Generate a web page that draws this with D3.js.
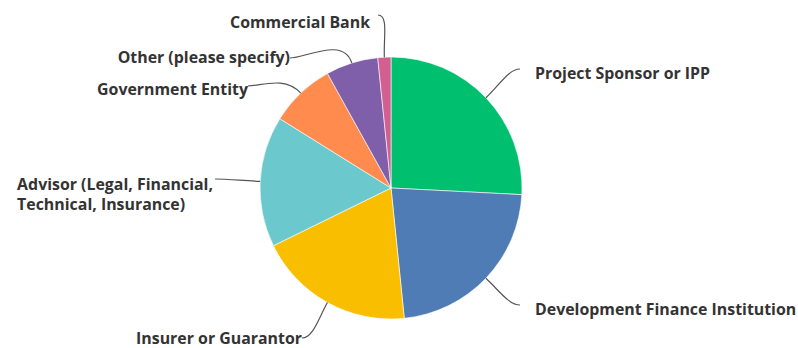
<!DOCTYPE html>
<html>
<head>
<meta charset="utf-8">
<script src="https://cdn.jsdelivr.net/npm/d3@7"></script>
<style>
  html, body { margin: 0; padding: 0; background: #fff; }
  svg { display: block; }
  .label { font-family: "Open Sans", Lato, sans-serif; font-weight: 700; font-size: 15.9px; fill: #333; }
</style>
</head>
<body>
<svg id="chart" width="798" height="348"></svg>
<script>
// Survey responses by respondent type
const categories = [
  "Project Sponsor or IPP",
  "Development Finance Institution",
  "Insurer or Guarantor",
  "Advisor (Legal, Financial, Technical, Insurance)",
  "Government Entity",
  "Other (please specify)",
  "Commercial Bank"
];
const responses = [16, 14, 12, 10, 5, 4, 1];
const sliceColors = ["#00BF6F", "#507CB6", "#F9BE00", "#6BC8CD", "#FF8B4F", "#7F5FAA", "#D25F90"];

// Label text split into lines
const labelLines = [
  ["Project Sponsor or IPP"],
  ["Development Finance Institution"],
  ["Insurer or Guarantor"],
  ["Advisor (Legal, Financial,", "Technical, Insurance)"],
  ["Government Entity"],
  ["Other (please specify)"],
  ["Commercial Bank"]
];

// Layout: where each leader line ends, relative to the pie centre,
// and where the label text sits relative to that end point
const leaderEnds = [
  [129, -119], [129, 117], [-89, 150], [-176, -9], [-143, -102], [-101, -130], [-13, -173]
];
const textOffsets = [
  [15, 10], [15, 10], [0, 6], [-2, 11], [0, 9], [0, 5], [-8, 13]
];

const width = 798, height = 348;
const cx = 391, cy = 188, radius = 131;

const svg = d3.select("#chart");
const g = svg.append("g").attr("transform", `translate(${cx},${cy})`);

const data = categories.map((c, i) => ({ name: c, value: responses[i], i }));
const pie = d3.pie().value(d => d.value).sort(null);
const arcs = pie(data);
const arc = d3.arc().innerRadius(0).outerRadius(radius);
const color = d3.scaleOrdinal().domain(categories).range(sliceColors);

g.selectAll("path.slice")
  .data(arcs)
  .join("path")
  .attr("class", "slice")
  .attr("d", arc)
  .attr("fill", d => color(d.data.name))
  .attr("stroke", "#fff")
  .attr("stroke-width", 0.6);

// Curved leader lines from slice edge to label
arcs.forEach((a, i) => {
  const mid = (a.startAngle + a.endAngle) / 2;
  const ux = Math.sin(mid), uy = -Math.cos(mid);
  const x0 = ux * radius, y0 = uy * radius;
  const [x1, y1] = leaderEnds[i];
  const side = x1 > x0 ? 1 : -1;
  const dist = Math.hypot(x1 - x0, y1 - y0);
  const p = d3.path();
  p.moveTo(x0, y0);
  p.bezierCurveTo(
    x0 + ux * dist * 0.45, y0 + uy * dist * 0.45,
    x1 - side * dist * 0.25, y1,
    x1, y1
  );
  g.append("path")
    .attr("d", p.toString())
    .attr("fill", "none")
    .attr("stroke", "#555")
    .attr("stroke-width", 1.2);

  const right = side > 0;
  const text = g.append("text")
    .attr("class", "label")
    .attr("text-anchor", right ? "start" : "end");
  const lines = labelLines[i];
  const [ox, oy] = textOffsets[i];
  const tx = x1 + ox;
  lines.forEach((ln, k) => {
    text.append("tspan")
      .attr("x", tx)
      .attr("y", y1 + oy + k * 20)
      .text(ln);
  });
  // multi-line labels are left-aligned to the first line
  if (!right && lines.length > 1) {
    const first = text.select("tspan").node().getComputedTextLength();
    text.attr("text-anchor", "start");
    text.selectAll("tspan").attr("x", tx - first);
  }
});
</script>
</body>
</html>
